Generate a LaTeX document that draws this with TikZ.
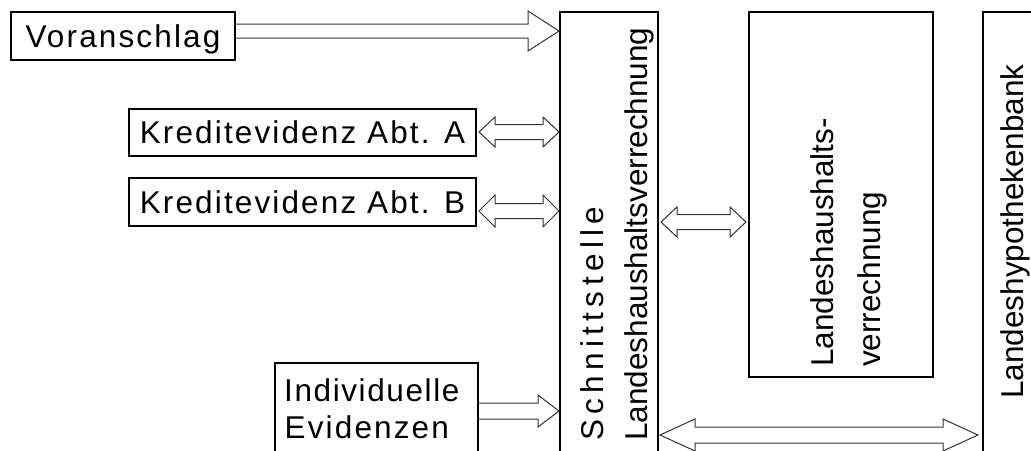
\documentclass[tikz,border=0pt]{standalone}
\usepackage{fontspec}
\setmainfont{Liberation Sans}
\newfontfamily\trk[LetterSpace=6.8]{Liberation Sans}
\newfontfamily\trkn[LetterSpace=5.1]{Liberation Sans}
\newfontfamily\trkw[LetterSpace=17]{Liberation Sans}
\usetikzlibrary{calc}
\newcommand{\singlearrow}[8]{% from, to, y, half shaft, half head, head length, tail gap, tip gap
  \draw[blockline] let \p1=(#1.east), \p2=(#2.west) in
    (\x1+#7pt,-#3pt+#4pt) -- (\x2-#8pt-#6pt,-#3pt+#4pt) -- (\x2-#8pt-#6pt,-#3pt+#5pt) -- (\x2-#8pt,-#3pt)
    -- (\x2-#8pt-#6pt,-#3pt-#5pt) -- (\x2-#8pt-#6pt,-#3pt-#4pt) -- (\x1+#7pt,-#3pt-#4pt);}
\newcommand{\doublearrow}[8]{% from, to, y, half shaft, half head, head length, left gap, right gap
  \draw[blockline] let \p1=(#1.east), \p2=(#2.west) in
    (\x1+#7pt,-#3pt) -- (\x1+#7pt+#6pt,-#3pt+#5pt) -- (\x1+#7pt+#6pt,-#3pt+#4pt)
    -- (\x2-#8pt-#6pt,-#3pt+#4pt) -- (\x2-#8pt-#6pt,-#3pt+#5pt) -- (\x2-#8pt,-#3pt)
    -- (\x2-#8pt-#6pt,-#3pt-#5pt) -- (\x2-#8pt-#6pt,-#3pt-#4pt)
    -- (\x1+#7pt+#6pt,-#3pt-#4pt) -- (\x1+#7pt+#6pt,-#3pt-#5pt) -- cycle;}
\begin{document}
\begin{tikzpicture}[x=1pt,y=-1pt,
  box/.style={draw=black,line width=2pt,rectangle,inner sep=0pt,
    text height=22.5pt,text depth=0pt,
    font=\fontsize{31.5}{37}\selectfont\trk},
  frame/.style={draw=black,line width=2pt,rectangle,inner sep=0pt},
  lbl/.style={inner sep=0pt,font=\fontsize{31.5}{37}\selectfont},
  vlbl/.style={lbl,rotate=90,anchor=base west},
  blockline/.style={draw=black!80,line width=1pt,line join=miter}]
\useasboundingbox (0,0) rectangle (1031,450);
\clip (0,0) rectangle (1031,450);
% boxes
\node[box,minimum width=224,minimum height=48] (V) at (123,36) {Voranschlag};
\node[box,minimum width=347,minimum height=47] (KA) at (302.5,132.5) {Kreditevidenz Abt. A};
\node[box,minimum width=347,minimum height=48] (KB) at (302.5,202) {Kreditevidenz Abt. B};
\node[frame,minimum width=203,minimum height=107] (IE) at (376.5,416.5) {};
\node[frame,minimum width=98,minimum height=458] (S) at (609,241) {};
\node[frame,minimum width=184,minimum height=365] (LHV) at (841,194.5) {};
\node[frame,minimum width=77,minimum height=458] (LHB) at (1021.5,241) {};
% texts
\node[lbl,anchor=base west,font=\fontsize{31.5}{37}\selectfont\trkn] (IE1) at (284,401) {Individuelle};
\node[lbl,anchor=base west,font=\fontsize{31.5}{37}\selectfont\trk] (IE2) at (284.5,438) {Evidenzen};
\node[vlbl,font=\fontsize{31.5}{37}\selectfont\trkw] (S1) at (603,441) {Schnittstelle};
\node[vlbl] (S2) at (647,441) {Landeshaushaltsverrechnung};
\node[vlbl] (LHV1) at (833,367) {Landeshaushalts-};
\node[vlbl] (LHV2) at (880,367) {verrechnung};
\node[vlbl] (LHB1) at (1023,399) {Landeshypothekenbank};
% arrows
\singlearrow{V}{S}{31}{7}{20}{31}{0}{0}
\doublearrow{KA}{S}{132}{7.5}{15}{16}{2}{0}
\doublearrow{KB}{S}{211}{7.5}{16}{16}{2}{0}
\singlearrow{IE}{S}{411}{8}{16}{21}{0}{0}
\doublearrow{S}{LHV}{222}{7.5}{15}{16}{2}{2}
\doublearrow{S}{LHB}{435}{8}{16}{35}{1}{4}
\end{tikzpicture}
\end{document}
